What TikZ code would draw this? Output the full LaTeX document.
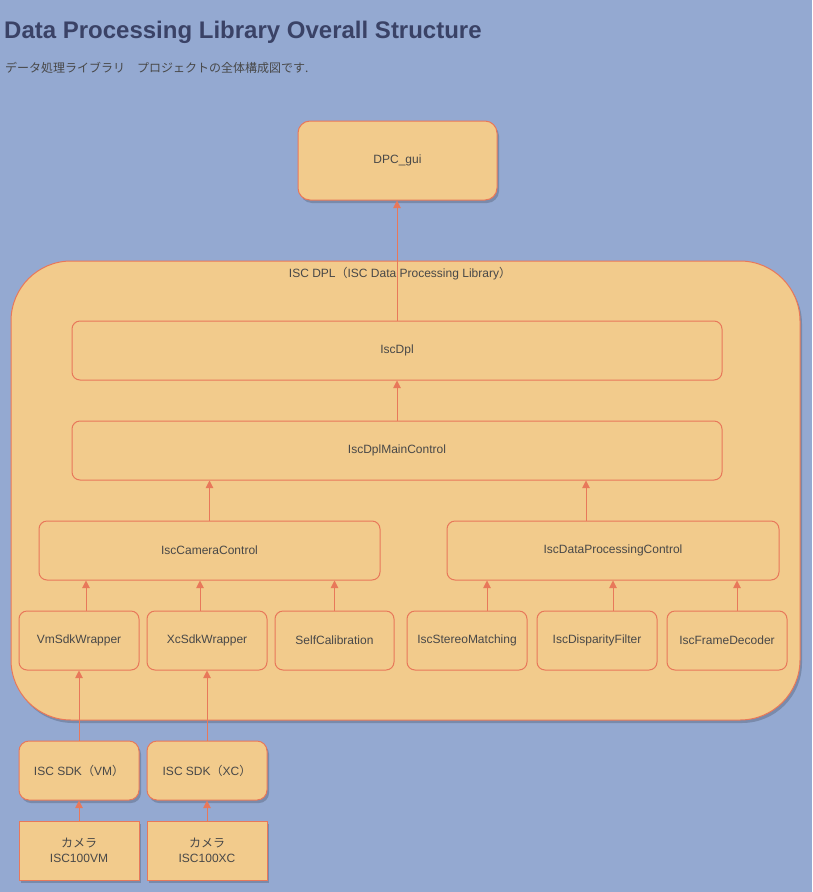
\documentclass[tikz,border=0pt]{standalone}
\usepackage{fontspec}
\setmainfont{Liberation Sans}
\newfontfamily\cjk{Noto Sans CJK JP}
\usetikzlibrary{arrows.meta,shadows}
\definecolor{bgblue}{RGB}{148,169,209}
\definecolor{boxfill}{RGB}{242,203,140}
\definecolor{boxline}{RGB}{232,120,90}
\definecolor{txtgray}{RGB}{72,72,72}
\definecolor{titleblue}{RGB}{58,66,102}
\begin{document}
\begin{tikzpicture}[
  x=1pt, y=-1pt,
  font=\fontsize{12}{15}\selectfont,
  box/.style={draw=boxline, fill=boxfill, line width=1pt, text=txtgray,
    rounded corners=8pt, minimum height=59pt, inner sep=0pt, align=center},
  raised/.style={box, drop shadow={shadow xshift=2pt, shadow yshift=-3pt,
    opacity=0.18, fill=black}},
  arr/.style={draw=boxline, line width=1pt, -{Triangle[length=7.5pt,width=7.5pt]}}
]
% page
\useasboundingbox[fill=bgblue] (0,0) rectangle (812,892);
% title
\node[anchor=base west, inner sep=0pt, font=\fontsize{24}{28}\bfseries, text=titleblue] (title) at (4,38) {Data Processing Library Overall Structure};
\node[anchor=base west, inner sep=0pt, text=txtgray, font=\cjk\fontsize{12}{15}\selectfont] (sub) at (5,72) {データ処理ライブラリ　プロジェクトの全体構成図です.};
% application
\node[raised, rounded corners=12pt, minimum width=199pt, minimum height=79pt] (gui) at (397.5,160.5) {DPC\_gui};
% library container
\node[raised, rounded corners=60pt, minimum width=789pt, minimum height=459pt] (dpl) at (405.5,490.5) {};
\node[text=txtgray, anchor=base] (dpllbl) at (400,277) {ISC DPL{\cjk （}ISC Data Processing Library{\cjk ）}};
% library layers
\node[box, minimum width=650pt] (core) at (397,350.5) {IscDpl};
\node[box, minimum width=650pt] (main) at (397,450.5) {IscDplMainControl};
\node[box, minimum width=341pt] (cam) at (209.5,550.5) {IscCameraControl};
\node[box, minimum width=332pt] (proc) at (613,550.5) {IscDataProcessingControl};
\node[box, minimum width=120pt] (vm) at (79,640.5) {VmSdkWrapper};
\node[box, minimum width=120pt] (xc) at (207,640.5) {XcSdkWrapper};
\node[box, minimum width=119pt] (selfcal) at (334.5,640.5) {SelfCalibration};
\node[box, minimum width=120pt] (stereo) at (467,640.5) {IscStereoMatching};
\node[box, minimum width=120pt] (disp) at (597,640.5) {IscDisparityFilter};
\node[box, minimum width=120pt] (frame) at (727,640.5) {IscFrameDecoder};
% sdk and cameras
\node[raised, rounded corners=10pt, minimum width=120pt] (sdkvm) at (79,770.5) {ISC SDK{\cjk （}VM{\cjk ）}};
\node[raised, rounded corners=10pt, minimum width=120pt] (sdkxc) at (207,770.5) {ISC SDK{\cjk （}XC{\cjk ）}};
\node[raised, rounded corners=0pt, minimum width=120pt] (camvm) at (79,850.5) {{\cjk カメラ}\\ISC100VM};
\node[raised, rounded corners=0pt, minimum width=120pt] (camxc) at (207,850.5) {{\cjk カメラ}\\ISC100XC};
% dependencies
\draw[arr] (core.north) -- (core.north |- gui.south);
\draw[arr] (main.north) -- (core.south);
\draw[arr] (cam.north) -- (cam.north |- main.south);
\draw[arr] ([xshift=-27pt]proc.north) -- ([xshift=-27pt]proc.north |- main.south);
\draw[arr] ([xshift=7pt]vm.north) -- ([xshift=7pt]vm.north |- cam.south);
\draw[arr] ([xshift=-7pt]xc.north) -- ([xshift=-7pt]xc.north |- cam.south);
\draw[arr] (selfcal.north) -- (selfcal.north |- cam.south);
\draw[arr] ([xshift=20pt]stereo.north) -- ([xshift=20pt]stereo.north |- proc.south);
\draw[arr] ([xshift=16pt]disp.north) -- ([xshift=16pt]disp.north |- proc.south);
\draw[arr] ([xshift=10pt]frame.north) -- ([xshift=10pt]frame.north |- proc.south);
\draw[arr] (sdkvm.north) -- (vm.south);
\draw[arr] (sdkxc.north) -- (xc.south);
\draw[arr] (camvm.north) -- (sdkvm.south);
\draw[arr] (camxc.north) -- (sdkxc.south);
\end{tikzpicture}
\end{document}
